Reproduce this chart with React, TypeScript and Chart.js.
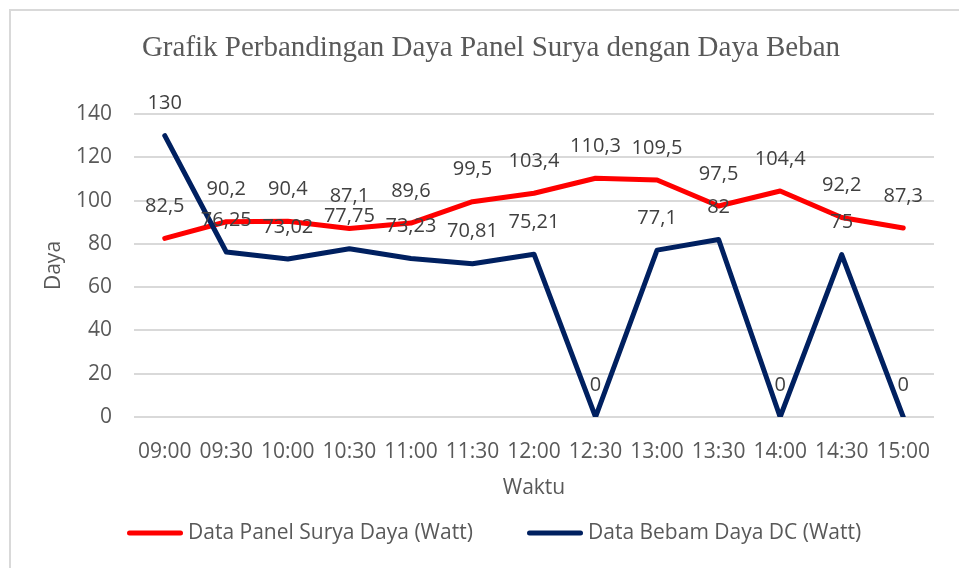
import React, { useEffect, useRef } from "react";
import { Chart, registerables } from "chart.js";

Chart.register(...registerables);

const categories = ["09:00", "09:30", "10:00", "10:30", "11:00", "11:30", "12:00", "12:30", "13:00", "13:30", "14:00", "14:30", "15:00"];
const panelSurya = [82.5, 90.2, 90.4, 87.1, 89.6, 99.5, 103.4, 110.3, 109.5, 97.5, 104.4, 92.2, 87.3];
const bebanDC = [130, 76.25, 73.02, 77.75, 73.23, 70.81, 75.21, 0, 77.1, 82, 0, 75, 0];
const seriesNames = ["Data Panel Surya Daya (Watt)", "Data Bebam Daya DC (Watt)"];
const seriesColors = ["#FF0000", "#002060"];
const chartTitle = "Grafik Perbandingan Daya Panel Surya dengan Daya Beban";
const xTitle = "Waktu";
const yTitle = "Daya";
const yMin = 0;
const yMax = 140;
const yStep = 20;

const SANS = "'Open Sans', 'Noto Sans', sans-serif";
const SERIF = "'Liberation Serif', 'Times New Roman', serif";

const fmt = (v: number) => String(v).replace(".", ",");

const decorPlugin = {
  id: "decor",
  beforeDraw(chart: any) {
    const { ctx, width, height } = chart;
    ctx.save();
    ctx.fillStyle = "#ffffff";
    ctx.fillRect(0, 0, width, height);
    ctx.fillStyle = "#d9d9d9";
    ctx.fillRect(9, 9, 2, height - 9);
    ctx.fillRect(9, 9, width - 9, 2);
    ctx.restore();
  },
  afterDatasetsDraw(chart: any) {
    const { ctx } = chart;
    ctx.save();
    ctx.font = `20px ${SANS}`;
    ctx.fillStyle = "#404040";
    ctx.textAlign = "center";
    ctx.textBaseline = "middle";
    chart.data.datasets.forEach((ds: any, di: number) => {
      const meta = chart.getDatasetMeta(di);
      meta.data.forEach((pt: any, i: number) => {
        ctx.fillText(fmt(ds.data[i]), pt.x, pt.y - 32);
      });
    });
    ctx.restore();
  },
  afterDraw(chart: any) {
    const { ctx } = chart;
    ctx.save();
    ctx.font = `29px ${SERIF}`;
    ctx.fillStyle = "#595959";
    ctx.textAlign = "center";
    ctx.textBaseline = "middle";
    ctx.fillText(chartTitle, 491, 48);

    const items = [
      { x: 127, name: seriesNames[0], color: seriesColors[0] },
      { x: 527, name: seriesNames[1], color: seriesColors[1] },
    ];
    const ly = 533;
    items.forEach((it) => {
      ctx.strokeStyle = it.color;
      ctx.lineWidth = 5;
      ctx.lineCap = "round";
      ctx.beginPath();
      ctx.moveTo(it.x + 2.5, ly);
      ctx.lineTo(it.x + 56 - 2.5, ly);
      ctx.stroke();
      ctx.font = `21px ${SANS}`;
      ctx.fillStyle = "#595959";
      ctx.textAlign = "left";
      ctx.textBaseline = "middle";
      ctx.fillText(it.name, it.x + 61, ly);
    });
    ctx.restore();
  },
};

export default function App() {
  const ref = useRef<HTMLCanvasElement | null>(null);

  useEffect(() => {
    if (!ref.current) return;
    const chart = new Chart(ref.current, {
      type: "line",
      data: {
        labels: categories,
        datasets: [
          {
            label: seriesNames[0],
            data: panelSurya,
            borderColor: seriesColors[0],
            backgroundColor: seriesColors[0],
            borderWidth: 5,
            pointRadius: 0,
            tension: 0,
            borderCapStyle: "round",
            borderJoinStyle: "round",
            order: 1,
          },
          {
            label: seriesNames[1],
            data: bebanDC,
            borderColor: seriesColors[1],
            backgroundColor: seriesColors[1],
            borderWidth: 5,
            pointRadius: 0,
            tension: 0,
            borderCapStyle: "round",
            borderJoinStyle: "round",
            order: 0,
          },
        ],
      },
      options: {
        animation: false,
        responsive: false,
        devicePixelRatio: 1,
        layout: { padding: { left: 40, right: 25, top: 114, bottom: 61 } },
        plugins: {
          legend: { display: false },
          title: { display: false },
          tooltip: { enabled: false },
        },
        scales: {
          x: {
            type: "category",
            offset: true,
            grid: { display: false },
            border: { display: false },
            ticks: {
              color: "#595959",
              font: { family: SANS, size: 21 },
              padding: 14,
              maxRotation: 0,
              autoSkip: false,
            },
            title: {
              display: true,
              text: xTitle,
              color: "#595959",
              font: { family: SANS, size: 21 },
              padding: { top: 0, bottom: 6 },
            },
            afterFit: (s: any) => {
              s.height = 90;
            },
          },
          y: {
            min: yMin,
            max: yMax,
            grid: { color: "#d9d9d9", lineWidth: 2, drawTicks: false },
            border: { display: false },
            ticks: {
              stepSize: yStep,
              color: "#595959",
              font: { family: SANS, size: 21 },
              padding: 22,
            },
            title: {
              display: true,
              text: yTitle,
              color: "#595959",
              font: { family: SANS, size: 21 },
              padding: { top: 1, bottom: 0 },
            },
            afterFit: (s: any) => {
              s.width = 94;
            },
          },
        },
      },
      plugins: [decorPlugin],
    } as any);
    return () => chart.destroy();
  }, []);

  return (
    <div style={{ position: "absolute", left: 0, top: 0, width: 959, height: 568 }}>
      <canvas ref={ref} width={959} height={568} style={{ display: "block", width: 959, height: 568 }} />
    </div>
  );
}
